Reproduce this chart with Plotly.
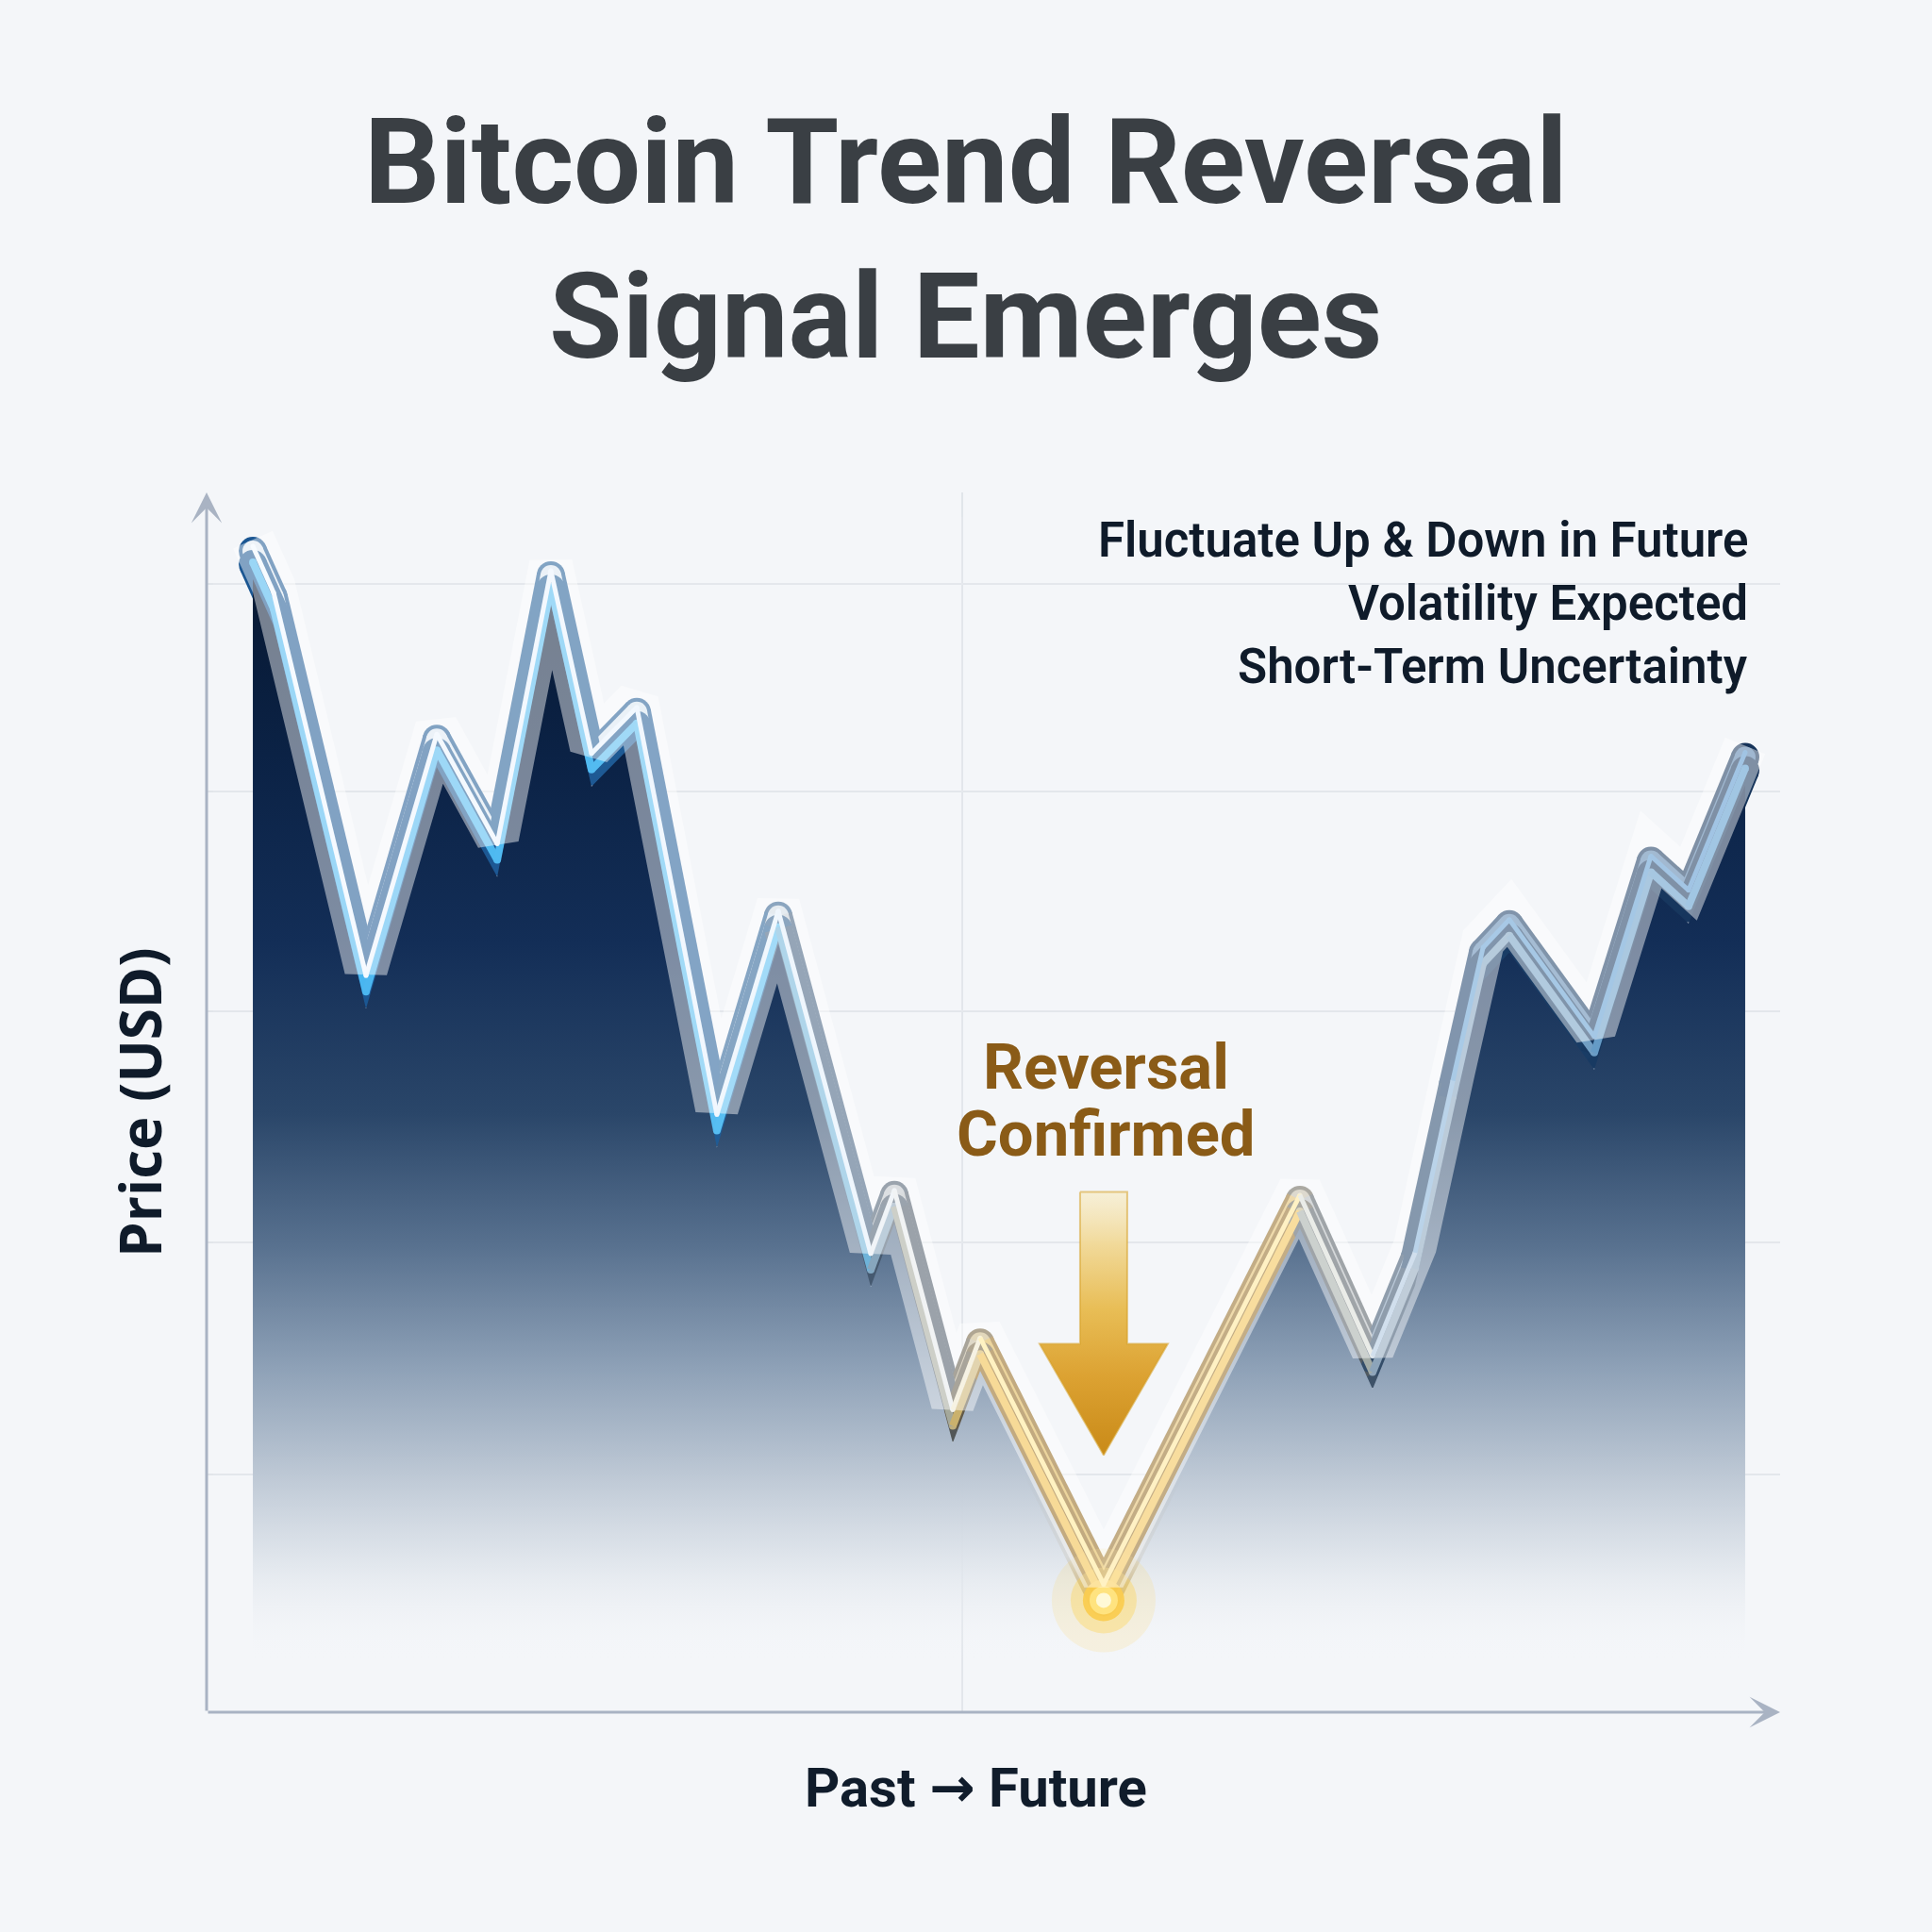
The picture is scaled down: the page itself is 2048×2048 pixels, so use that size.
import plotly.graph_objects as go

# ---------------- data ----------------
time_idx = [2.94, 4.26, 10.13, 14.63, 18.47, 21.88, 24.46, 27.34, 32.43, 36.33,
            42.21, 43.71, 47.42, 49.16, 57.01, 69.48, 74.10, 76.80, 79.20, 81.12,
            82.79, 88.19, 91.79, 94.18, 97.78]
price_idx = [95.2, 91.4, 60.0, 79.8, 70.8, 93.2, 78.2, 82.0, 48.6, 65.3,
             37.2, 42.4, 24.4, 30.3, 10.1, 42.0, 28.8, 37.3, 51.4, 62.3,
             64.6, 55.0, 69.8, 67.0, 78.3]
grid_levels = [19.5, 38.5, 57.5, 75.5, 92.5]
grid_times = [48.0]

title_text = "Bitcoin Trend Reversal<br>Signal Emerges"
note_lines = ["Fluctuate Up & Down in Future", "Volatility Expected", "Short-Term Uncertainty"]
signal_lines = ["Reversal", "Confirmed"]
x_label = "Past <span style='font-family:DejaVu Sans'>\u2192</span> Future"
y_label = "Price (USD)"

# ---------------- geometry ----------------
W = H = 2048
L, R, T, B = 219, 161, 522, 233
PW, PH = W - L - R, H - T - B
XR, YR = (0, 100), (0, 100)
PX_X = PW / (XR[1] - XR[0])
PX_Y = PH / (YR[1] - YR[0])


def px2paper_x(px):
    return (px - L) / PW


def px2paper_y(py):
    return (H - B - py) / PH


def shifted(dpx):
    s = dpx / PX_Y
    return [YR[0] + s, YR[1] + s]


def hex2rgb(h):
    h = h.lstrip('#')
    return tuple(int(h[i:i + 2], 16) for i in (0, 2, 4))


def interp(stops, x):
    if x <= stops[0][0]:
        return stops[0][1]
    for (x0, c0), (x1, c1) in zip(stops[:-1], stops[1:]):
        if x0 <= x <= x1:
            t = (x - x0) / (x1 - x0) if x1 > x0 else 0
            a, b = hex2rgb(c0), hex2rgb(c1)
            r = [round(a[k] + (b[k] - a[k]) * t) for k in range(3)]
            return 'rgb(%d,%d,%d)' % tuple(r)
    return stops[-1][1]


face_stops = [(0, '#e2ebf3'), (34, '#d6e4f0'), (40, '#c4cbd2'), (47, '#b9bcbf'),
              (51, '#d8b050'), (60, '#eab945'), (66, '#d9bf86'), (72, '#b2b8be'),
              (78, '#5f89b3'), (100, '#527ca8')]
edge_stops = [(0, '#1a5592'), (34, '#1f5b95'), (40, '#425c79'), (47, '#4b545e'),
              (51, '#8f6419'), (62, '#9a6b18'), (68, '#75684f'), (73, '#465667'),
              (79, '#1b406b'), (100, '#153257')]
rim_stops = [(0, '#45b4ef'), (36, '#58bef2'), (44, '#8ea2b5'), (51, '#f0bb40'),
             (66, '#f2c352'), (73, '#93a6b8'), (100, '#4a95cf')]
hi_stops = [(0, '#f8fbff'), (40, '#eff6fd'), (47, '#f2f2f2'), (51, '#fff2c2'),
            (66, '#fff1c4'), (73, '#e6ebf0'), (80, '#a9cae6'), (100, '#9fc3e3')]

fig = go.Figure()

# ---------------- area fill (drawn on an axis shifted down for depth) ----------------
FILL_SHIFT = 30
s3 = FILL_SHIFT / PX_Y
g_start = (H - B - 1760) / PX_Y + s3
g_stop = (H - B - 600) / PX_Y + s3
fig.add_trace(go.Scatter(
    x=time_idx, y=price_idx, yaxis='y3', mode='lines', line=dict(width=0),
    fill='tozeroy',
    fillgradient=dict(type='vertical', start=g_start, stop=g_stop, colorscale=[
        [0.0, 'rgba(244,246,249,0)'], [0.095, 'rgba(221,227,234,0.92)'],
        [0.172, '#bcc7d4'], [0.267, '#8ea1b7'], [0.379, '#58718f'],
        [0.5, '#2a4669'], [0.655, '#132e57'], [0.828, '#0b2245'], [1.0, '#071832']]),
    hoverinfo='skip'))

# faint grid lines over the fill
for g in grid_levels:
    fig.add_trace(go.Scatter(x=[XR[0] + 0.4, XR[1]], y=[g, g], mode='lines',
                             line=dict(color='rgba(255,255,255,0.10)', width=2), hoverinfo='skip'))
for g in grid_times:
    fig.add_trace(go.Scatter(x=[g, g], y=[YR[0], YR[1] - 2], mode='lines',
                             line=dict(color='rgba(255,255,255,0.10)', width=2), hoverinfo='skip'))

# soft glow above the ribbon
fig.add_trace(go.Scatter(x=time_idx, y=price_idx, yaxis='y6', mode='lines',
                         line=dict(color='rgba(255,255,255,0.45)', width=46), hoverinfo='skip'))


def ribbon_layer(stops, width, yaxis):
    n = len(time_idx)
    vcols = [interp(stops, x) for x in time_idx]
    fig.add_trace(go.Scatter(x=time_idx, y=price_idx, yaxis=yaxis, mode='markers',
                             marker=dict(size=width, color=vcols, line=dict(width=0)),
                             hoverinfo='skip'))
    for i in range(n - 1):
        xm = (time_idx[i] + time_idx[i + 1]) / 2
        fig.add_trace(go.Scatter(x=time_idx[i:i + 2], y=price_idx[i:i + 2], yaxis=yaxis,
                                 mode='lines', line=dict(color=interp(stops, xm), width=width),
                                 hoverinfo='skip'))


ribbon_layer(edge_stops, 30, 'y2')   # extruded side
ribbon_layer(edge_stops, 30, 'y')    # outline
ribbon_layer(rim_stops, 8, 'y5')     # bright rim
ribbon_layer(face_stops, 22, 'y')    # face
ribbon_layer(hi_stops, 5, 'y7')      # highlight

# ---------------- reversal marker ----------------
imin = min(range(len(price_idx)), key=lambda i: price_idx[i])
xm, ym = time_idx[imin], price_idx[imin]
for sz, col in [(110, 'rgba(255,214,90,0.16)'), (70, 'rgba(255,208,70,0.35)'),
                (44, 'rgba(250,204,80,0.95)'), (30, 'rgba(255,228,130,0.95)'),
                (16, 'rgba(255,250,220,0.95)')]:
    fig.add_trace(go.Scatter(x=[xm], y=[ym], yaxis='y5', mode='markers',
                             marker=dict(size=sz, color=col, line=dict(width=0)), hoverinfo='skip'))

# gold arrow pointing down at the trough (offsets in px from the trough)
arrow_px = [(-25, -421), (25, -421), (25, -260), (68, -260), (0, -142),
            (-68, -260), (-25, -260), (-25, -421)]
ax_ = [xm + dx / PX_X for dx, dy in arrow_px]
ay_ = [ym - dy / PX_Y for dx, dy in arrow_px]
fig.add_trace(go.Scatter(
    x=ax_, y=ay_, mode='lines', fill='toself',
    line=dict(color='rgba(214,160,40,0.55)', width=2),
    fillgradient=dict(type='vertical', start=min(ay_), stop=max(ay_), colorscale=[
        [0.0, '#c98a18'], [0.3, '#dca232'], [0.55, '#e8bd55'], [0.8, '#f1d999'],
        [1.0, 'rgba(247,236,200,0.7)']]),
    hoverinfo='skip'))

# ---------------- annotations ----------------
ann = []
ann.append(dict(text=title_text, xref='paper', yref='paper', x=px2paper_x(1024), y=px2paper_y(254),
                xanchor='center', yanchor='middle', showarrow=False, align='center',
                font=dict(family='Roboto', size=126, color='#3a3f44', weight=700)))
note_y = [572, 639, 706]
for txt, yy in zip(note_lines, note_y):
    ann.append(dict(text=txt, xref='paper', yref='paper', x=px2paper_x(1855), y=px2paper_y(yy),
                    xanchor='right', yanchor='middle', showarrow=False,
                    font=dict(family='Roboto', size=51, color='#0f1b2a', weight=600)))
sig_y = [1131, 1202]
for txt, yy in zip(signal_lines, sig_y):
    ann.append(dict(text=txt, xref='paper', yref='paper', x=px2paper_x(1172), y=px2paper_y(yy),
                    xanchor='center', yanchor='middle', showarrow=False,
                    font=dict(family='Roboto', size=67, color='#8a5b17', weight=700)))
ann.append(dict(text=x_label, xref='paper', yref='paper', x=px2paper_x(1034), y=px2paper_y(1895),
                xanchor='center', yanchor='middle', showarrow=False,
                font=dict(family='Roboto', size=58, color='#101c2b', weight=700)))
ann.append(dict(text=y_label, xref='paper', yref='paper', x=px2paper_x(148), y=px2paper_y(1169),
                xanchor='center', yanchor='middle', showarrow=False, textangle=-90,
                font=dict(family='Open Sans', size=60, color='#0f1b2a', weight=700)))
# axis arrows
ann.append(dict(x=XR[0], y=YR[1], ax=XR[0], ay=YR[0], xref='x', yref='y', axref='x', ayref='y',
                text='', showarrow=True, arrowhead=3, arrowsize=1.8, arrowwidth=3,
                arrowcolor='#a9b3c3'))
ann.append(dict(x=XR[1], y=YR[0], ax=XR[0], ay=YR[0], xref='x', yref='y', axref='x', ayref='y',
                text='', showarrow=True, arrowhead=3, arrowsize=1.8, arrowwidth=3,
                arrowcolor='#a9b3c3'))

hidden = dict(visible=False, overlaying='y', anchor='x', fixedrange=True)
fig.update_layout(
    width=W, height=H, margin=dict(l=L, r=R, t=T, b=B, pad=0),
    paper_bgcolor='#f4f6f9', plot_bgcolor='rgba(0,0,0,0)',
    showlegend=False, hovermode=False,
    xaxis=dict(range=list(XR), tickvals=grid_times, showticklabels=False, showgrid=True,
               gridcolor='#e1e5ea', gridwidth=2, zeroline=False, showline=False, ticks=''),
    yaxis=dict(range=list(YR), tickvals=grid_levels, showticklabels=False, showgrid=True,
               gridcolor='#e1e5ea', gridwidth=2, zeroline=False, showline=False, ticks=''),
    yaxis2=dict(range=shifted(14), **hidden),
    yaxis3=dict(range=shifted(FILL_SHIFT), **hidden),
    yaxis5=dict(range=shifted(12), **hidden),
    yaxis6=dict(range=shifted(-12), **hidden),
    yaxis7=dict(range=shifted(-5), **hidden),
    annotations=ann,
)

fig.write_html("out.html", config={'displayModeBar': False},
               post_script="document.body.style.margin='0';document.body.style.background='#f4f6f9';")
